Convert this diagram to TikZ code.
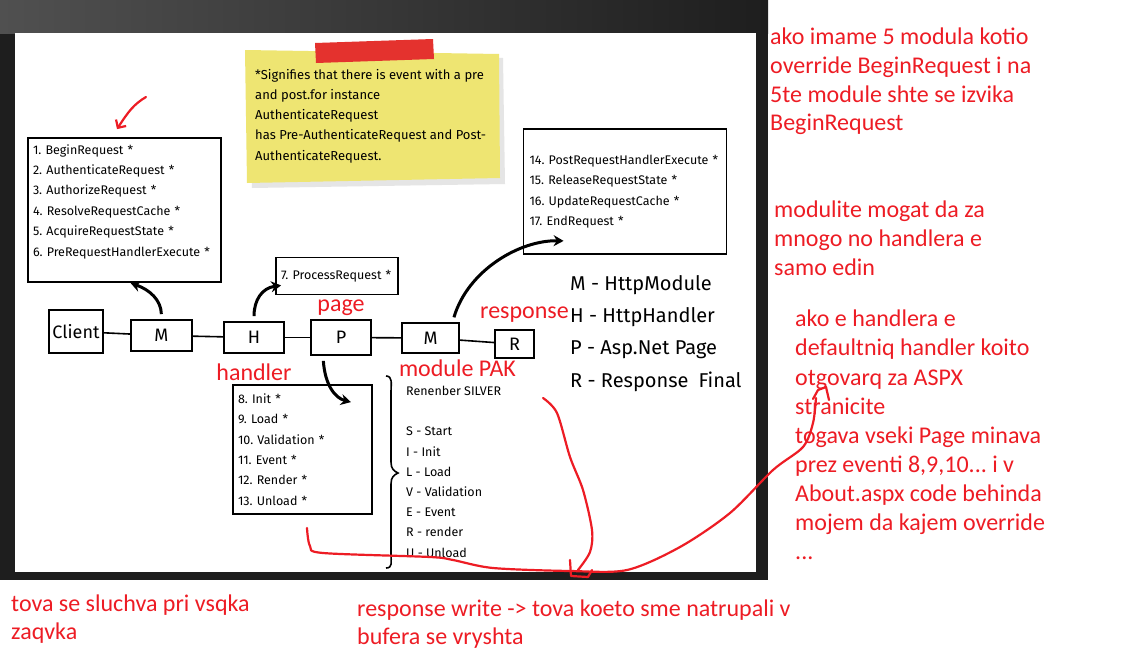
\documentclass[tikz,border=0pt]{standalone}
\usepackage{fontspec}
\setmainfont{Fira Sans}
\newfontfamily\notefont{Carlito}
\usetikzlibrary{arrows.meta, positioning}
\definecolor{inkred}{RGB}{237,28,36}
\definecolor{notey}{RGB}{238,229,114}
\definecolor{tapered}{RGB}{228,50,46}
\definecolor{framedark}{RGB}{30,30,30}
\definecolor{framelight}{RGB}{80,80,80}
\frenchspacing

\begin{document}
\begin{tikzpicture}[
        x=1pt, y=-1pt,
        chainbox/.style={rectangle, draw=black, line width=1.8pt, inner sep=0pt, font=\fontsize{18}{20}\selectfont},
        listbox/.style={rectangle, draw=black, line width=1.8pt, align=left, inner xsep=5pt, font=\fontsize{12.5}{20.4}\selectfont},
        notetext/.style={anchor=north west, align=left, inner sep=0pt, font=\fontsize{13}{20.2}\selectfont},
        link/.style={line width=1.6pt},
        flow/.style={-{Stealth[length=10pt, width=11pt]}, line width=3pt, shorten <=5pt},
        tag/.style={text=inkred, inner sep=1pt, font=\notefont\fontsize{24}{28}\selectfont},
        remark/.style={text=inkred, anchor=north west, align=left, inner sep=0pt, font=\notefont\fontsize{24}{28.7}\selectfont},
        scribble/.style={draw=inkred, line width=2.2pt, line cap=round, line join=round}
    ]
        \useasboundingbox (0,0) rectangle (1136,664);

        % the slide
        \fill[framedark] (0,0) rectangle (768,580);
        \shade[left color=framelight, right color=framedark] (0,0) rectangle (768,33);
        \fill[white] (15,33) rectangle (756,572);

        % sticky note
        \fill[black!10] (250,56) -- (503,58) -- (505,184) -- (252,188) -- cycle;
        \fill[notey] (245,50) -- (499,54) -- (500,178) -- (247,183) -- cycle;
        \fill[tapered] (315,43) -- (433,39) -- (434,59) -- (316,63) -- cycle;
        \node[notetext] (note) at (255,69) {*Signifies that there is event with a pre\\and post.for instance\\AuthenticateRequest\\has Pre-AuthenticateRequest and Post-\\AuthenticateRequest.};

        % pipeline
        \node[chainbox, minimum width=54pt, minimum height=43pt] (client) at (76,331.5) {Client};
        \node[chainbox, minimum width=61pt, minimum height=31pt] (m1) at (161.5,335.5) {M};
        \node[chainbox, minimum width=60pt, minimum height=31pt] (h) at (254,337.5) {H};
        \node[chainbox, minimum width=60pt, minimum height=35pt] (p) at (341,337.5) {P};
        \node[chainbox, minimum width=57pt, minimum height=30pt] (m2) at (430.5,338) {M};
        \node[chainbox, minimum width=39pt, minimum height=28pt] (r) at (514.5,344) {R};
        \draw[link] (client) -- (m1);
        \draw[link] (m1) -- (h);
        \draw[link] (h) -- (p);
        \draw[link] (p) -- (m2);
        \draw[link] (m2) -- (r);

        % event lists
        \node[listbox, text width=183pt, minimum height=144pt] (evbegin) at (124.5,210) {1. BeginRequest *\\2. AuthenticateRequest *\\3. AuthorizeRequest *\\4. ResolveRequestCache *\\5. AcquireRequestState *\\6. PreRequestHandlerExecute *\\[-1pt]\mbox{}};
        \node[listbox, text width=112pt, minimum height=37pt] (evproc) at (337,276) {7. ProcessRequest *};
        \node[listbox, text width=191pt, inner xsep=6pt, minimum height=125pt] (evend) at (625,191.5) {14. PostRequestHandlerExecute *\\15. ReleaseRequestState *\\16. UpdateRequestCache *\\17. EndRequest *};
        \node[listbox, text width=129pt, minimum height=129pt] (evpage) at (302.5,449.5) {8. Init *\\9. Load *\\10. Validation *\\11. Event *\\12. Render *\\13. Unload *};

        \draw[flow] (m1.north) .. controls (161,300) and (150,290) .. ([xshift=6pt]evbegin.south);
        \draw[flow] (h.north) .. controls (254,300) and (262,288) .. ([xshift=6pt, yshift=10pt]evproc.south west);
        \draw[flow] ([xshift=22pt]m2.north) .. controls (468,270) and (520,240) .. ([xshift=41pt, yshift=14pt]evend.south west);
        \draw[flow] ([xshift=-18pt]p.south) .. controls (325,385) and (335,398) .. ([xshift=-22pt, yshift=-18pt]evpage.north east);

        % legend and mnemonic
        \node[anchor=north west, align=left, inner sep=0pt, font=\fontsize{20}{32.3}\selectfont] (legend) at (570,275) {M - HttpModule\\H - HttpHandler\\P - Asp.Net Page\\R - Response\hspace{10pt}Final};
        \draw[line width=1.6pt] (386,376) .. controls (393,376) and (391,384) .. (391,392) -- (391,462) .. controls (391,469) and (394,471) .. (398,473) .. controls (394,475) and (391,477) .. (391,484) -- (391,554) .. controls (391,562) and (393,568) .. (386,568);
        \node[anchor=north west, align=left, inner sep=0pt, font=\fontsize{12.5}{20.2}\selectfont] (silver) at (406,386) {Renenber SILVER\\[20.2pt]S - Start\\I - Init\\L - Load\\V - Validation\\E - Event\\R - render\\U - Unload};

        % red notes on the chain
        \node[tag, above=2pt of p] (lblpage) {page};
        \node[tag, below=9pt of h] (lblhandler) {handler};
        \node[tag, below=5pt of m2, xshift=27pt] (lblmodule) {module PAK};
        \node[tag, above=6pt of r, xshift=10pt] (lblresponse) {response};

        % red remarks
        \node[remark] (txtbegin) at (770,28) {ako imame 5 modula kotio\\override BeginRequest i na\\5te module shte se izvika\\BeginRequest};
        \node[remark] (txtmodules) at (774,201) {modulite mogat da za\\mnogo no handlera e\\samo edin};
        \node[remark, font=\notefont\fontsize{24}{29.1}\selectfont] (txtdefault) at (795,310) {ako e handlera e\\defaultniq handler koito\\otgovarq za ASPX\\stranicite\\togava vseki Page minava\\prez eventi 8,9,10... i v\\About.aspx code behinda\\mojem da kajem override\\...};
        \node[remark, font=\notefont\fontsize{24}{28}\selectfont] (txtevery) at (11,595) {tova se sluchva pri vsqka\\zaqvka};
        \node[remark, font=\notefont\fontsize{24}{28}\selectfont] (txtwrite) at (357,600) {response write -> tova koeto sme natrupali v\\bufera se vryshta};

        % red scribbles
        \draw[scribble, -{Straight Barb[length=6pt, width=12pt]}] (146,97) .. controls (134,104) and (128,112) .. ([xshift=-7.5pt, yshift=8pt]evbegin.north);
        \draw[scribble] plot[smooth] coordinates {(307,528) (310,546) (323,553) (430,557) (453,560) (493,568) (570,571) (627,570) (680,547) (730,513) (773,470) (803,447) (813,423) (816,398)};
        \draw[scribble] (813,399) -- (818,390) -- (826,387) -- (829,400);
        \draw[scribble] plot[smooth] coordinates {(543,398) (557,413) (570,457) (583,490) (592,530) (590,552) (578,570)};
        \draw[scribble] (570,560) -- (571,576) -- (588,577) -- (592,570);
    \end{tikzpicture}
\end{document}
